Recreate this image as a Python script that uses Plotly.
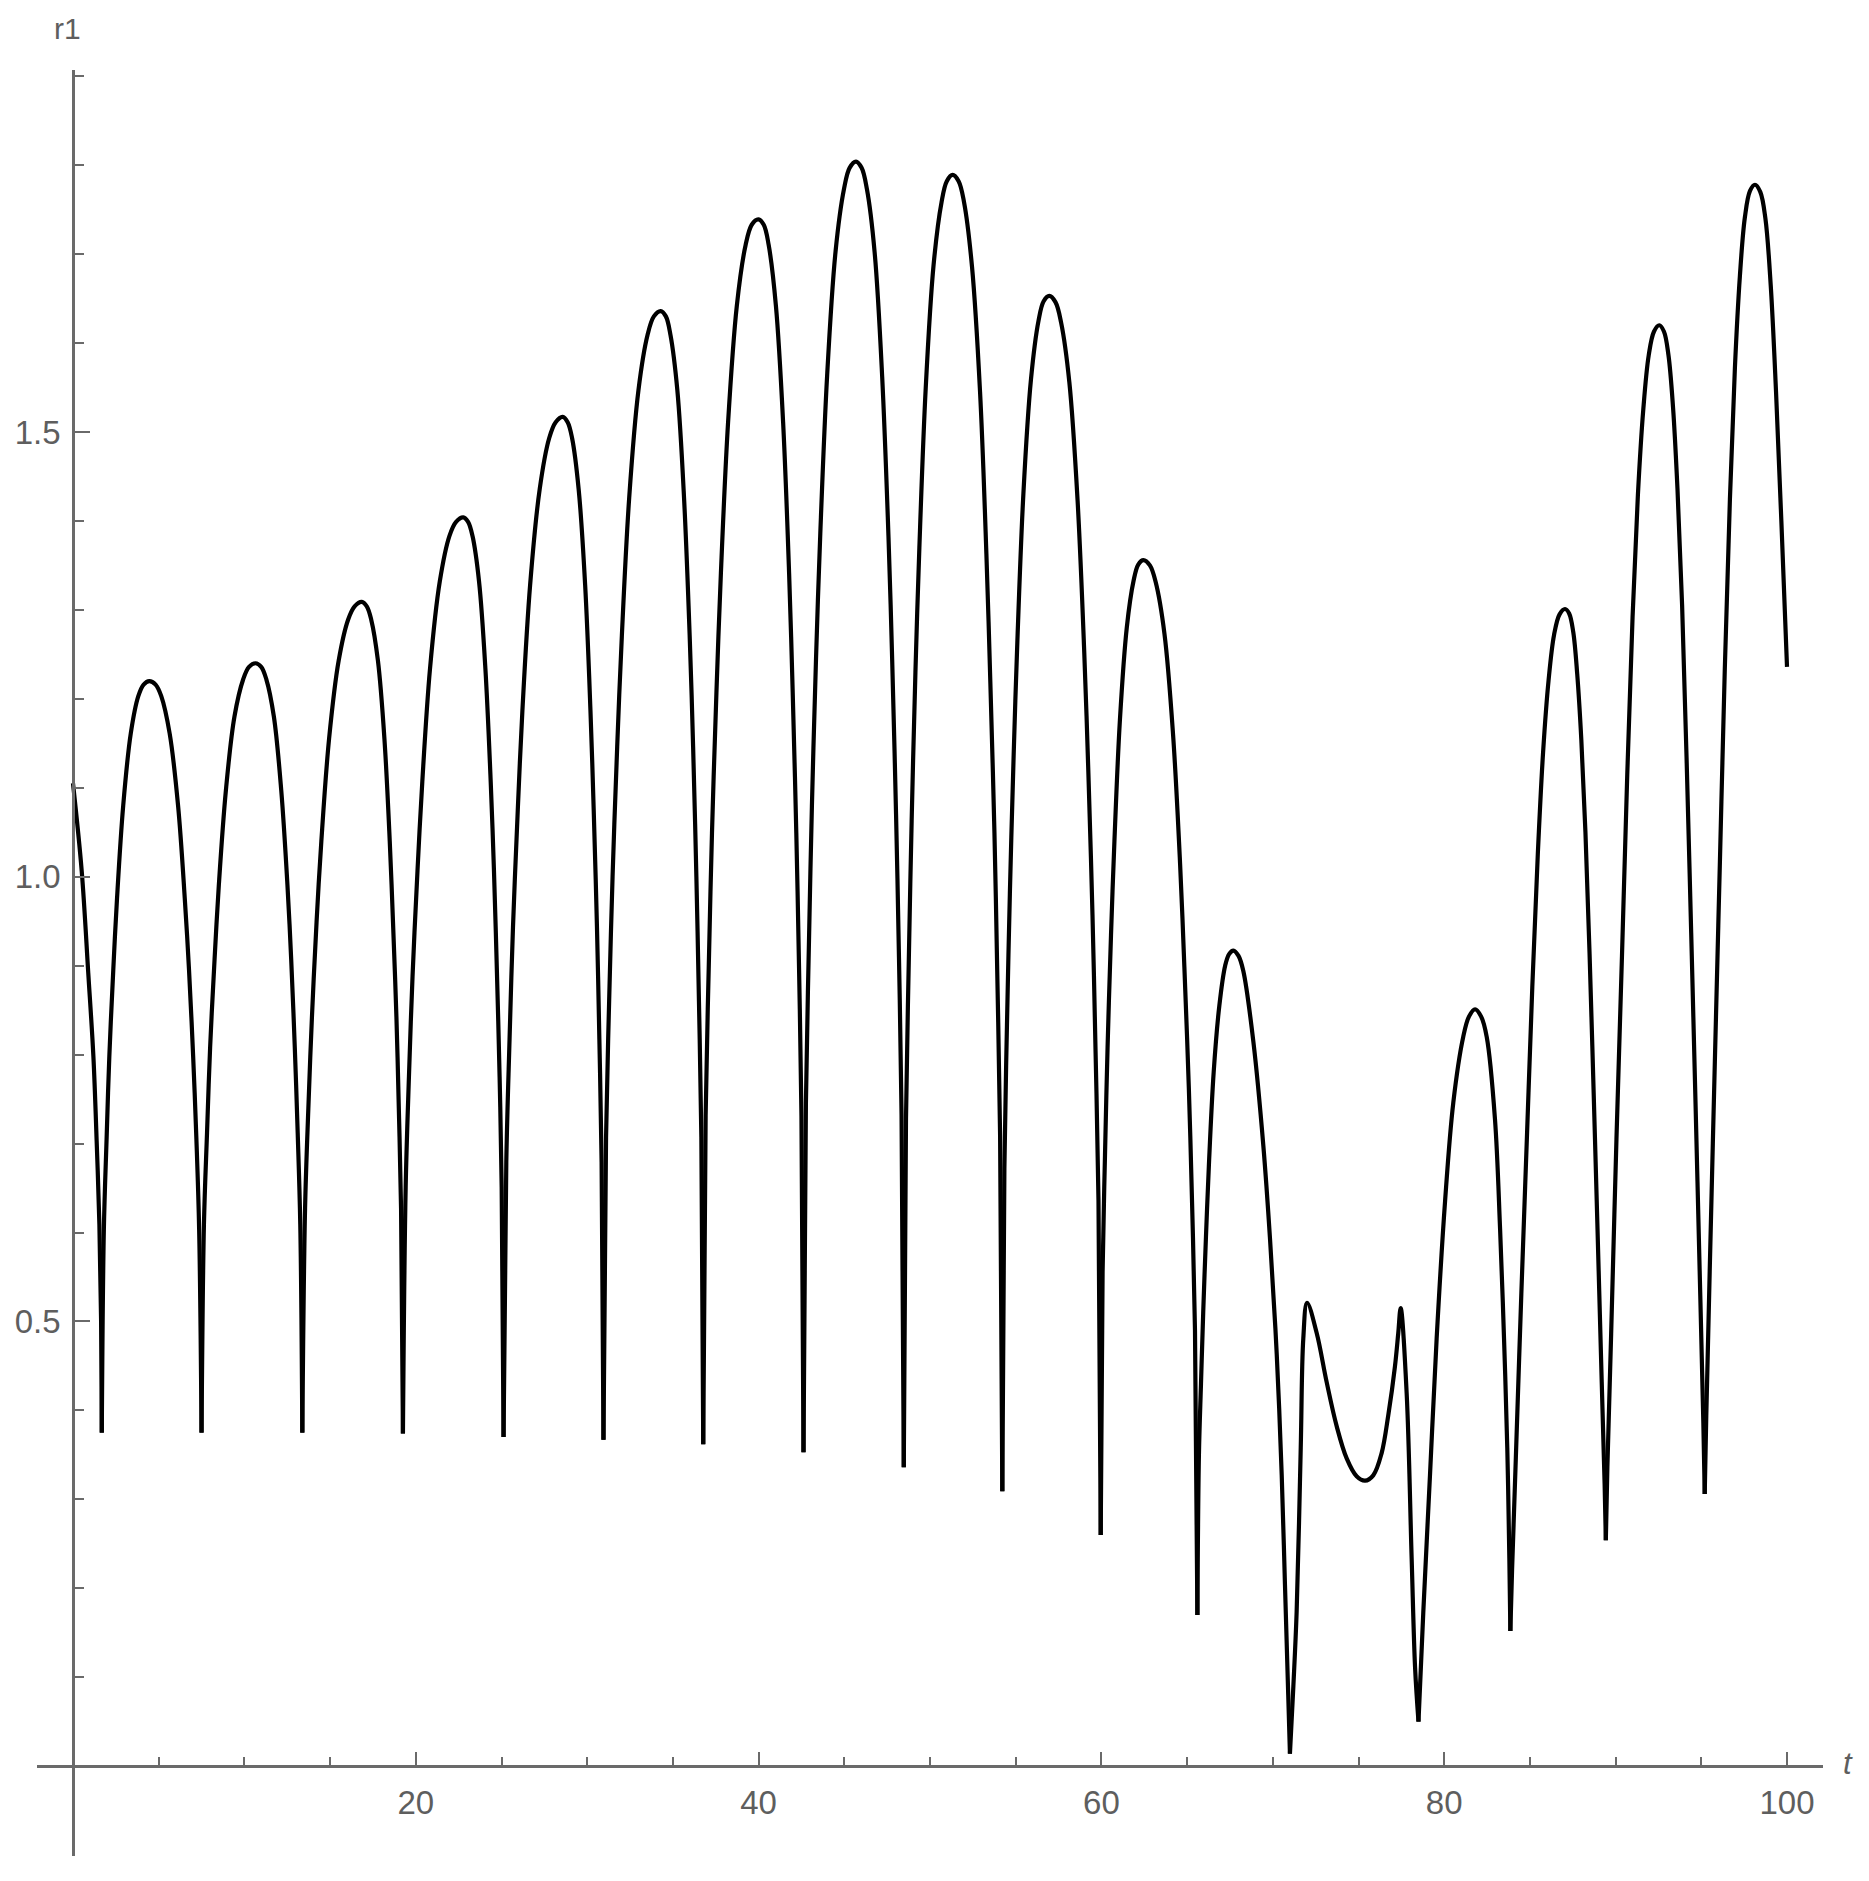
import plotly.graph_objects as go

# ---- data (one line per arch) ----
t = [
    0.00, 0.51, 0.89, 1.19, 1.38, 1.54, 1.64, 1.68,
    1.80, 1.96, 2.12, 2.35, 2.57, 2.93, 3.37, 3.81, 4.12, 4.45, 4.82, 5.15, 5.64, 6.13, 6.52, 6.77, 7.01, 7.20, 7.36, 7.50,
    7.64, 7.82, 8.00, 8.26, 8.51, 8.92, 9.42, 9.93, 10.27, 10.65, 10.98, 11.28, 11.72, 12.15, 12.51, 12.73, 12.94, 13.11, 13.26, 13.38,
    13.54, 13.73, 13.94, 14.21, 14.49, 14.94, 15.50, 16.05, 16.43, 16.85, 17.14, 17.40, 17.79, 18.17, 18.48, 18.67, 18.87, 19.01, 19.14, 19.25,
    19.41, 19.60, 19.81, 20.10, 20.38, 20.83, 21.40, 21.96, 22.35, 22.77, 23.05, 23.31, 23.69, 24.06, 24.37, 24.56, 24.74, 24.89, 25.01, 25.12,
    25.28, 25.47, 25.67, 25.95, 26.22, 26.67, 27.23, 27.78, 28.16, 28.57, 28.86, 29.12, 29.50, 29.88, 30.19, 30.38, 30.57, 30.71, 30.84, 30.95,
    31.10, 31.28, 31.48, 31.75, 32.02, 32.45, 32.99, 33.52, 33.89, 34.29, 34.59, 34.86, 35.26, 35.65, 35.98, 36.18, 36.37, 36.52, 36.66, 36.77,
    36.91, 37.09, 37.28, 37.54, 37.80, 38.22, 38.73, 39.24, 39.60, 39.98, 40.30, 40.59, 41.01, 41.43, 41.78, 41.99, 42.20, 42.36, 42.50, 42.62,
    42.76, 42.93, 43.11, 43.35, 43.60, 44.00, 44.49, 44.98, 45.31, 45.68, 46.01, 46.32, 46.77, 47.21, 47.58, 47.80, 48.02, 48.19, 48.34, 48.47,
    48.60, 48.76, 48.93, 49.15, 49.38, 49.75, 50.21, 50.67, 50.98, 51.32, 51.67, 51.99, 52.45, 52.92, 53.29, 53.52, 53.76, 53.93, 54.09, 54.22,
    54.34, 54.49, 54.66, 54.88, 55.10, 55.45, 55.89, 56.33, 56.63, 56.96, 57.32, 57.65, 58.13, 58.61, 59.00, 59.24, 59.48, 59.66, 59.83, 59.96,
    60.07, 60.21, 60.36, 60.56, 60.76, 61.08, 61.48, 61.88, 62.15, 62.45, 62.83, 63.17, 63.68, 64.18, 64.59, 64.84, 65.10, 65.29, 65.46, 65.60,
    65.69, 65.81, 65.94, 66.10, 66.27, 66.55, 66.88, 67.22, 67.45, 67.70, 68.00, 68.28, 68.87, 69.45, 69.84, 70.23, 70.52, 70.71, 70.90, 71.00,
    71.20, 71.39, 71.63, 71.78, 72.00, 72.56, 73.14, 73.73, 74.31, 74.89, 75.38, 75.86, 76.35, 76.74, 77.13, 77.32, 77.46, 77.81, 78.10, 78.30, 78.50,
    78.78, 79.17, 79.56, 80.05, 80.53, 81.11, 81.45, 81.80, 82.15, 82.48, 82.96, 83.26, 83.49, 83.68, 83.80, 83.86,
    83.96, 84.18, 84.50, 84.82, 85.14, 85.46, 85.77, 86.09, 86.41, 86.73, 87.05, 87.29, 87.53, 87.76, 88.00, 88.24, 88.48, 88.72, 88.95, 89.19, 89.36, 89.43,
    89.52, 89.74, 90.05, 90.37, 90.68, 90.99, 91.30, 91.61, 91.93, 92.24, 92.55, 92.82, 93.08, 93.35, 93.61, 93.88, 94.14, 94.41, 94.67, 94.94, 95.12, 95.20,
    95.29, 95.49, 95.79, 96.08, 96.37, 96.67, 96.96, 97.25, 97.54, 97.84, 98.13, 98.44, 98.74, 99.05, 99.36, 99.67, 100.00,
]
r1 = [
    1.105, 1.006, 0.892, 0.798, 0.703, 0.609, 0.500, 0.375,
    0.603, 0.705, 0.798, 0.895, 0.976, 1.080, 1.161, 1.203, 1.216, 1.220, 1.216, 1.203, 1.161, 1.080, 0.976, 0.895, 0.798, 0.705, 0.603, 0.375,
    0.609, 0.712, 0.808, 0.907, 0.991, 1.097, 1.180, 1.222, 1.236, 1.240, 1.236, 1.222, 1.180, 1.097, 0.991, 0.907, 0.808, 0.712, 0.609, 0.375,
    0.627, 0.739, 0.842, 0.949, 1.040, 1.155, 1.243, 1.289, 1.304, 1.309, 1.304, 1.289, 1.243, 1.155, 1.040, 0.949, 0.842, 0.739, 0.627, 0.374,
    0.651, 0.775, 0.888, 1.007, 1.107, 1.234, 1.332, 1.383, 1.399, 1.404, 1.399, 1.383, 1.332, 1.234, 1.107, 1.007, 0.888, 0.775, 0.651, 0.370,
    0.679, 0.817, 0.943, 1.075, 1.187, 1.328, 1.436, 1.493, 1.511, 1.517, 1.511, 1.493, 1.436, 1.328, 1.187, 1.075, 0.943, 0.817, 0.679, 0.367,
    0.707, 0.860, 1.000, 1.146, 1.270, 1.426, 1.547, 1.609, 1.630, 1.636, 1.630, 1.609, 1.547, 1.426, 1.270, 1.146, 1.000, 0.860, 0.707, 0.362,
    0.731, 0.897, 1.049, 1.207, 1.341, 1.511, 1.642, 1.710, 1.733, 1.739, 1.733, 1.710, 1.642, 1.511, 1.341, 1.207, 1.049, 0.897, 0.731, 0.353,
    0.745, 0.919, 1.079, 1.245, 1.386, 1.564, 1.703, 1.773, 1.797, 1.804, 1.797, 1.773, 1.702, 1.562, 1.381, 1.239, 1.070, 0.909, 0.732, 0.336,
    0.728, 0.903, 1.063, 1.230, 1.370, 1.549, 1.688, 1.758, 1.782, 1.789, 1.782, 1.758, 1.686, 1.545, 1.363, 1.219, 1.049, 0.886, 0.709, 0.309,
    0.672, 0.833, 0.981, 1.136, 1.266, 1.431, 1.559, 1.625, 1.647, 1.653, 1.646, 1.623, 1.556, 1.423, 1.252, 1.117, 0.957, 0.803, 0.636, 0.260,
    0.556, 0.687, 0.808, 0.934, 1.040, 1.176, 1.280, 1.333, 1.351, 1.356, 1.350, 1.331, 1.273, 1.160, 1.015, 0.899, 0.763, 0.633, 0.490, 0.170,
    0.350, 0.430, 0.510, 0.595, 0.675, 0.780, 0.855, 0.900, 0.913, 0.917, 0.911, 0.894, 0.814, 0.697, 0.592, 0.463, 0.327, 0.204, 0.080, 0.014,
    0.090, 0.173, 0.358, 0.481, 0.521, 0.487, 0.432, 0.382, 0.346, 0.326, 0.321, 0.327, 0.352, 0.395, 0.450, 0.487, 0.515, 0.419, 0.234, 0.111, 0.050,
    0.173, 0.327, 0.481, 0.635, 0.746, 0.820, 0.843, 0.851, 0.843, 0.820, 0.728, 0.604, 0.481, 0.358, 0.234, 0.152,
    0.221, 0.347, 0.531, 0.704, 0.876, 1.025, 1.140, 1.221, 1.272, 1.295, 1.301, 1.296, 1.275, 1.228, 1.154, 1.050, 0.914, 0.757, 0.600, 0.432, 0.317, 0.254,
    0.336, 0.486, 0.705, 0.910, 1.115, 1.292, 1.429, 1.524, 1.586, 1.613, 1.620, 1.613, 1.587, 1.528, 1.436, 1.305, 1.134, 0.937, 0.740, 0.529, 0.385, 0.306,
    0.394, 0.556, 0.792, 1.013, 1.233, 1.425, 1.572, 1.675, 1.741, 1.771, 1.778, 1.770, 1.740, 1.665, 1.545, 1.400, 1.236,
]
assert len(t) == len(r1)

# t values of the sharp minima (cusps) of the curve
cusp_t = [1.68, 7.50, 13.38, 19.25, 25.12, 30.95, 36.77, 42.62, 48.47,
          54.22, 59.96, 65.60, 71.00, 78.50, 83.86, 89.43, 95.20]

x_major = [20, 40, 60, 80, 100]
x_major_text = ["20", "40", "60", "80", "100"]
x_minor = [5, 10, 15, 25, 30, 35, 45, 50, 55, 65, 70, 75, 85, 90, 95]
y_major = [0.5, 1.0, 1.5]
y_major_text = ["0.5", "1.0", "1.5"]
y_minor = [-0.1, 0.1, 0.2, 0.3, 0.4, 0.6, 0.7, 0.8, 0.9,
           1.1, 1.2, 1.3, 1.4, 1.6, 1.7, 1.8, 1.9]

# ---- figure ----
AX = "#6a6a6a"
LBL = "#5e5e5e"
FONT = "Liberation Sans, Arial, sans-serif"

X_RANGE = [-2.1, 102.1]
Y_RANGE = [-0.101, 1.907]

# split the curve into arches at the cusps (smooth arches, sharp cusps)
segments = []
cur_t, cur_r = [], []
for ti, ri in zip(t, r1):
    cur_t.append(ti)
    cur_r.append(ri)
    if ti in cusp_t:
        segments.append((cur_t, cur_r))
        cur_t, cur_r = [ti], [ri]
if len(cur_t) > 1:
    segments.append((cur_t, cur_r))

fig = go.Figure()
for st, sr in segments:
    fig.add_trace(go.Scatter(
        x=st, y=sr, mode="lines",
        line=dict(color="#000000", width=4.2, shape="spline", smoothing=1.0),
        showlegend=False, hoverinfo="skip",
    ))

x_pos = (0 - Y_RANGE[0]) / (Y_RANGE[1] - Y_RANGE[0])
y_pos = (0 - X_RANGE[0]) / (X_RANGE[1] - X_RANGE[0])

fig.update_layout(
    width=1869, height=1881,
    margin=dict(l=37, r=46, t=70, b=25),
    paper_bgcolor="white", plot_bgcolor="white",
    showlegend=False,
    font=dict(family=FONT, size=33, color=LBL),
    xaxis=dict(
        range=X_RANGE, anchor="free", position=x_pos,
        showline=True, linecolor=AX, linewidth=2.5,
        showgrid=False, zeroline=False,
        tickmode="array", tickvals=x_major, ticktext=x_major_text,
        ticks="inside", ticklen=13, tickwidth=2, tickcolor=AX,
        tickfont=dict(family=FONT, size=33, color=LBL),
        ticklabelstandoff=6,
        minor=dict(tickmode="array", tickvals=x_minor, ticks="inside",
                   ticklen=8, tickwidth=2, tickcolor=AX, showgrid=False),
    ),
    yaxis=dict(
        range=Y_RANGE, anchor="free", position=y_pos,
        showline=True, linecolor=AX, linewidth=2.5,
        showgrid=False, zeroline=False,
        tickmode="array", tickvals=y_major, ticktext=y_major_text,
        ticks="inside", ticklen=15, tickwidth=2, tickcolor=AX,
        tickfont=dict(family=FONT, size=33, color=LBL),
        ticklabelstandoff=5,
        minor=dict(tickmode="array", tickvals=y_minor, ticks="inside",
                   ticklen=9, tickwidth=2, tickcolor=AX, showgrid=False),
    ),
    annotations=[
        dict(text="r1", xref="paper", yref="paper", x=0.0168, y=1.0235,
             xanchor="center", yanchor="middle", showarrow=False,
             font=dict(family=FONT, size=30, color=LBL)),
        dict(text="<i>t</i>", xref="paper", yref="paper", x=1.014, y=0.052,
             xanchor="center", yanchor="middle", showarrow=False,
             font=dict(family=FONT, size=31, color=LBL)),
    ],
)

fig.write_html(
    "out.html",
    config={"displayModeBar": False},
    post_script="document.body.style.margin='0px';document.body.style.padding='0px';",
)
